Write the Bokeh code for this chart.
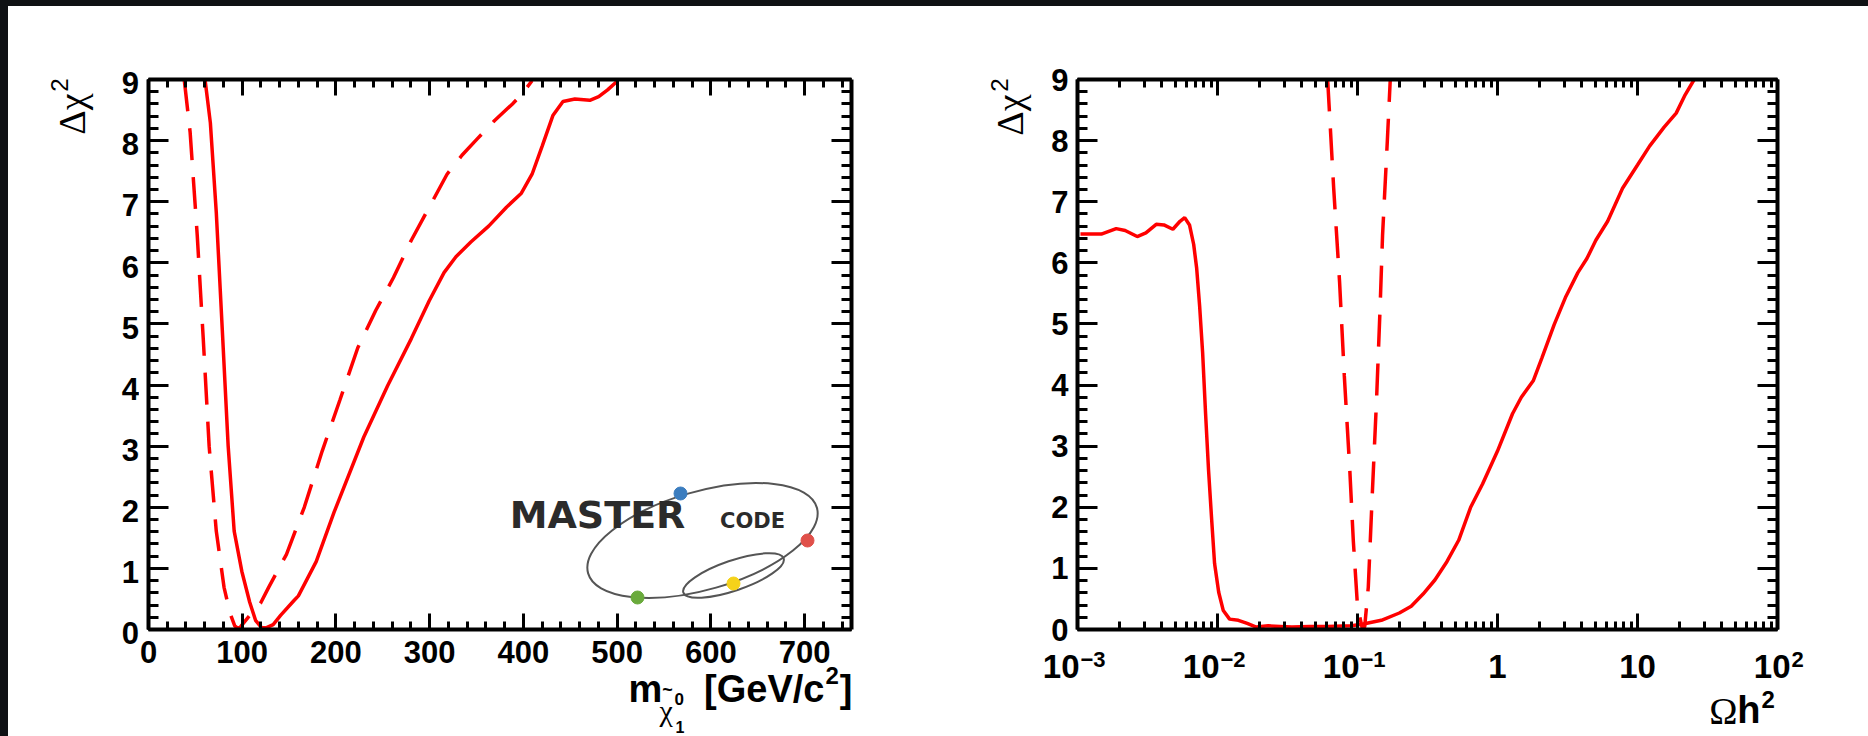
import math
from bokeh.plotting import figure
from bokeh.models import FixedTicker, LinearAxis, LogAxis, Label, Div, CustomJSTickFormatter
from bokeh.layouts import row, column
from bokeh.embed import file_html
from bokeh.resources import INLINE

# ---------------- data ----------------
# left panel: delta chi^2 vs neutralino mass [GeV/c^2]
mass_solid_x = [60.3, 66.0, 72.3, 78.7, 85.0, 91.4, 99.6, 107.9, 114.2, 120.6, 126.0, 133.0,
                140.9, 155.0, 159.9, 178.9, 198.0, 229.7, 255.1, 280.4, 299.5, 315.3, 328.0,
                343.9, 362.9, 381.9, 397.8, 409.2, 420.0, 431.4, 442.2, 454.9, 470.8, 480.3,
                489.8, 500.6]
mass_solid_y = [9.00, 8.29, 6.83, 4.91, 3.00, 1.61, 0.95, 0.45, 0.15, 0.03, 0.03, 0.08,
                0.23, 0.47, 0.55, 1.11, 1.92, 3.15, 3.99, 4.76, 5.38, 5.84, 6.10,
                6.34, 6.60, 6.91, 7.14, 7.45, 7.91, 8.41, 8.64, 8.68, 8.66, 8.72,
                8.83, 8.98]
mass_dash_x = [38.1, 44.4, 52.0, 58.4, 64.7, 72.3, 80.6, 86.9, 92.0, 96.0, 98.5, 109.1,
               119.5, 128.2, 147.2, 166.2, 185.3, 204.3, 223.3, 242.4, 261.4, 280.4, 299.5,
               318.5, 334.4, 350.2, 369.3, 388.3, 397.8, 409.2]
mass_dash_y = [9.00, 8.14, 6.45, 4.76, 3.00, 1.61, 0.69, 0.27, 0.06, 0.01, 0.05, 0.25,
               0.43, 0.69, 1.23, 2.00, 2.92, 3.76, 4.61, 5.22, 5.76, 6.37, 6.91,
               7.45, 7.76, 8.02, 8.33, 8.60, 8.75, 8.98]

# right panel: delta chi^2 vs Omega h^2
omega_solid_x = [0.00105, 0.00148, 0.00189, 0.00219, 0.00267, 0.00308, 0.00365, 0.00414,
                 0.00480, 0.00540, 0.00583, 0.00631, 0.00676, 0.00710, 0.00745, 0.00783,
                 0.00822, 0.00863, 0.00906, 0.00953, 0.0102, 0.0110, 0.0122, 0.0141,
                 0.0163, 0.0189, 0.0230, 0.0280, 0.0340, 0.0457, 0.0612, 0.0906, 0.110,
                 0.148, 0.199, 0.242, 0.294, 0.357, 0.435, 0.528, 0.643, 0.782, 1.00,
                 1.28, 1.48, 1.80, 2.08, 2.54, 3.08, 3.75, 4.35, 5.04, 6.12, 7.82, 10.0,
                 12.2, 15.5, 18.9, 21.9, 25.4]
omega_solid_y = [6.47, 6.47, 6.56, 6.53, 6.43, 6.49, 6.63, 6.62,
                 6.55, 6.68, 6.74, 6.62, 6.30, 5.91, 5.30, 4.53,
                 3.53, 2.61, 1.84, 1.08, 0.61, 0.31, 0.17, 0.15,
                 0.10, 0.04, 0.06, 0.05, 0.04, 0.05, 0.05, 0.06, 0.09,
                 0.15, 0.27, 0.38, 0.58, 0.81, 1.11, 1.46, 2.00, 2.38, 2.92,
                 3.53, 3.80, 4.07, 4.45, 4.99, 5.45, 5.84, 6.07, 6.37, 6.68, 7.22, 7.60,
                 7.91, 8.22, 8.45, 8.75, 9.00]
omega_dash_x = [0.0612, 0.0676, 0.0745, 0.0805, 0.0881, 0.0933, 0.1000, 0.1079,
                0.1125, 0.1194, 0.1276, 0.1368, 0.1452, 0.1510, 0.1633, 0.1714]
omega_dash_y = [9.00, 7.22, 5.68, 4.15, 2.61, 1.46, 0.38, 0.03,
                0.04, 0.69, 2.23, 3.76, 5.30, 6.45, 7.99, 9.00]

# ticks
chi2_ticks = [0, 1, 2, 3, 4, 5, 6, 7, 8, 9]
chi2_minor = [round(0.2 * i, 1) for i in range(46)]
mass_ticks = [0, 100, 200, 300, 400, 500, 600, 700]
mass_minor = [20 * i for i in range(38)]
omega_ticks = [0.001, 0.01, 0.1, 1, 10, 100]
omega_tick_base = ["10", "10", "10", "1", "10", "10"]
omega_tick_exp = ["\u22123", "\u22122", "\u22121", "", "", "2"]
omega_minor = [m * 10.0 ** e for e in range(-3, 2) for m in range(2, 10)]

SANS = "Liberation Sans"
SERIF = "Liberation Serif"
LOGO_FONT = "DejaVu Sans"
RED = "#ff0000"
TICK_PX = 31
# a centred Label has its baseline this many em below its anchor
K = {SANS: 0.3465, SERIF: 0.3375, LOGO_FONT: 0.346}

# page geometry (pixels)
FRAME_TOP, FRAME_BOTTOM = 79, 629
P1_LEFT, P1_RIGHT = 148, 851
P2_LEFT, P2_RIGHT = 1077, 1777
P1_CUT_X = 139          # left text column | left plot
P1_BOTTOM = 634         # left plot | strip below it
P2_CUT_X = 1037         # right text column | right plot
P2_BOTTOM = 647         # right plot | strip below it


def blank():
    return CustomJSTickFormatter(code="return ''")


def style_axis(ax, ticks, minor, major_len, minor_len, labels=True, standoff=9):
    ax.ticker = FixedTicker(ticks=ticks, minor_ticks=minor)
    ax.axis_line_width = 4
    ax.axis_line_color = "black"
    ax.major_tick_in = major_len
    ax.major_tick_out = 0
    ax.minor_tick_in = minor_len
    ax.minor_tick_out = 0
    ax.major_tick_line_width = 3
    ax.minor_tick_line_width = 3
    ax.major_tick_line_color = "black"
    ax.minor_tick_line_color = "black"
    ax.major_label_text_font = SANS
    ax.major_label_text_font_style = "bold"
    ax.major_label_text_font_size = f"{TICK_PX}px"
    ax.major_label_text_color = "black"
    ax.major_label_standoff = standoff
    if not labels:
        ax.major_label_standoff = 0
        ax.formatter = blank()


def make_fig(x_range, log, left_b, frame_w, right_b, bottom):
    p = figure(frame_width=frame_w, frame_height=FRAME_BOTTOM - FRAME_TOP, x_range=x_range,
               y_range=(0, 9), x_axis_type="log" if log else "linear", output_backend="svg",
               toolbar_location=None, min_border_left=left_b, min_border_right=right_b,
               min_border_top=FRAME_TOP - 6, min_border_bottom=bottom - FRAME_BOTTOM,
               background_fill_color="white", border_fill_color="white",
               outline_line_color=None)
    p.grid.visible = False
    p.add_layout(LogAxis() if log else LinearAxis(), "above")
    p.add_layout(LinearAxis(), "right")
    return p


def text_fig(x0, x1, y0, y1):
    """A blank canvas whose data coordinates are the page pixels (y downwards)."""
    f = figure(width=x1 - x0, height=y1 - y0, x_range=(x0, x1), y_range=(y1, y0),
               output_backend="svg", toolbar_location=None, min_border=0,
               x_axis_location=None, y_axis_location=None, title_location=None,
               outline_line_color=None, background_fill_color="white",
               border_fill_color="white")
    f.grid.visible = False
    return f


def put(f, x, base, text, size, font=SANS, bold=True, align="left"):
    """Horizontal text with its baseline at page y = base."""
    f.add_layout(Label(x=x, y=base - K[font] * size, text=text, text_font=font,
                       text_font_size=f"{size}px", text_font_style="bold" if bold else "normal",
                       text_color="black", text_align=align, text_baseline="middle"))


def put_up(f, base_x, top_y, text, size, font=SANS, bold=False):
    """Text reading upwards, its baseline at page x = base_x and its end at page y = top_y."""
    f.add_layout(Label(x=base_x - K[font] * size, y=top_y, text=text, text_font=font,
                       text_font_size=f"{size}px", text_font_style="bold" if bold else "normal",
                       text_color="black", text_align="right", text_baseline="middle",
                       angle=math.pi / 2))


def ly(Y):
    return (FRAME_BOTTOM - Y) * 9 / (FRAME_BOTTOM - FRAME_TOP)


def lx(X):
    return (X - P1_LEFT) * 750 / (P1_RIGHT - P1_LEFT)


# ---------------- left panel ----------------
p1 = make_fig((0, 750), False, P1_LEFT - P1_CUT_X, P1_RIGHT - P1_LEFT, 83, P1_BOTTOM)
style_axis(p1.below[0], mass_ticks, mass_minor, 16, 8, labels=False)
style_axis(p1.above[0], mass_ticks, mass_minor, 16, 8, labels=False)
style_axis(p1.left[0], chi2_ticks, chi2_minor, 20, 10, labels=False)
style_axis(p1.right[0], chi2_ticks, chi2_minor, 20, 10, labels=False)

# MasterCode logo (drawn)
p1.ellipse(x=[lx(702)], y=[ly(540)], width=238, height=98, angle=0.28,
           width_units="screen", height_units="screen", fill_color=None,
           line_color="#555555", line_width=2)
p1.ellipse(x=[lx(733)], y=[ly(575)], width=106, height=30, angle=0.33,
           width_units="screen", height_units="screen", fill_color=None,
           line_color="#555555", line_width=2)
p1.add_layout(Label(x=lx(597), y=ly(528 - 0.346 * 38), text="MASTER", text_font=LOGO_FONT,
                    text_font_size="38px", text_font_style="bold", text_color="#2b2b2b",
                    text_align="center", text_baseline="middle"))
p1.add_layout(Label(x=lx(752), y=ly(528 - 0.346 * 21), text="CODE", text_font=LOGO_FONT,
                    text_font_size="21px", text_font_style="bold", text_color="#2b2b2b",
                    text_align="center", text_baseline="middle"))
p1.scatter(x=[lx(680), lx(807), lx(637), lx(733)], y=[ly(493), ly(540), ly(597), ly(583)],
           size=13, color=["#3b7dbf", "#e0504a", "#6aaa3c", "#f5d21a"])

p1.line(mass_solid_x, mass_solid_y, line_color=RED, line_width=3.5)
p1.line(mass_dash_x, mass_dash_y, line_color=RED, line_width=3.5, line_dash="32 17")

# ---------------- right panel ----------------
p2 = make_fig((0.001, 100), True, P2_LEFT - P2_CUT_X, P2_RIGHT - P2_LEFT, 91, P2_BOTTOM)
style_axis(p2.below[0], omega_ticks, omega_minor, 16, 8, labels=False)
style_axis(p2.above[0], omega_ticks, omega_minor, 16, 8, labels=False)
style_axis(p2.left[0], chi2_ticks, chi2_minor, 20, 10)
style_axis(p2.right[0], chi2_ticks, chi2_minor, 20, 10, labels=False)

p2.line(omega_solid_x, omega_solid_y, line_color=RED, line_width=3.5)
p2.line(omega_dash_x, omega_dash_y, line_color=RED, line_width=3.5, line_dash="32 17")

# ---------------- margin texts ----------------
yt1 = text_fig(8, P1_CUT_X, 6, 736)
strip1 = text_fig(P1_CUT_X, 934, P1_BOTTOM, 736)
yt2 = text_fig(934, P2_CUT_X, 6, 736)
strip2 = text_fig(P2_CUT_X, 1868, P2_BOTTOM, 736)

# y titles  "Delta chi^2"
put_up(yt1, 84, 93, "\u0394\u03c7", 38, font=SERIF)
put_up(yt1, 67, 78, "2", 24)
put_up(yt2, 1022, 94, "\u0394\u03c7", 38, font=SERIF)
put_up(yt2, 1007, 78, "2", 24)

# left y tick labels
for t in chi2_ticks:
    y_t = FRAME_BOTTOM - t * (FRAME_BOTTOM - FRAME_TOP) / 9
    put(yt1, P1_CUT_X - 0.5, y_t + 14.5, str(t), TICK_PX, align="right")

# left x tick labels
for t in mass_ticks:
    put(strip1, P1_LEFT + t * (P1_RIGHT - P1_LEFT) / 750, 662.5, str(t), TICK_PX, align="center")

# left x title  m_{chi~0_1} [GeV/c^2]
put(strip1, 628, 702, "m", 38)
put(strip1, 667, 696, "~", 18, align="center")
put(strip1, 659, 720, "\u03c7", 30, font=SERIF, bold=False)
put(strip1, 674, 704, "0", 17)
put(strip1, 675, 732, "1", 16)
put(strip1, 824, 702, "[GeV/c", 38, align="right")
put(strip1, 825, 683, "2", 24)
put(strip1, 852, 702, "]", 38, align="right")

# right x tick labels 10^k
for t, base, ex in zip(omega_ticks, omega_tick_base, omega_tick_exp):
    xt = P2_LEFT + (math.log10(t) + 3) * (P2_RIGHT - P2_LEFT) / 5
    if ex == "":
        put(strip2, xt, 677, base, 33, align="center")
    else:
        edge = 2 if ex.startswith("\u2212") else 13
        put(strip2, xt + edge, 677, base, 33, align="right")
        put(strip2, xt + edge + 1, 667, ex, 22)

# right x title  Omega h^2
put(strip2, 1737, 723, "\u03a9", 38, font=SERIF, bold=False, align="right")
put(strip2, 1760, 723, "h", 38, align="right")
put(strip2, 1761, 707, "2", 24)

# ---------------- page ----------------
dark = {"background-color": "#0f1114"}
top_strip = Div(text="", width=1868, height=6, margin=0, styles=dark)
left_strip = Div(text="", width=8, height=730, margin=0, styles=dark)
# the strips are wrapped in rows so that bokeh does not align their frames with the plots
left_block = row(yt1, column(p1, row(strip1)))
right_block = row(yt2, column(p2, row(strip2)))
layout = column(top_strip, row(left_strip, left_block, right_block))

open("out.html", "w").write(file_html(layout, INLINE, "Delta chi2 profiles"))
